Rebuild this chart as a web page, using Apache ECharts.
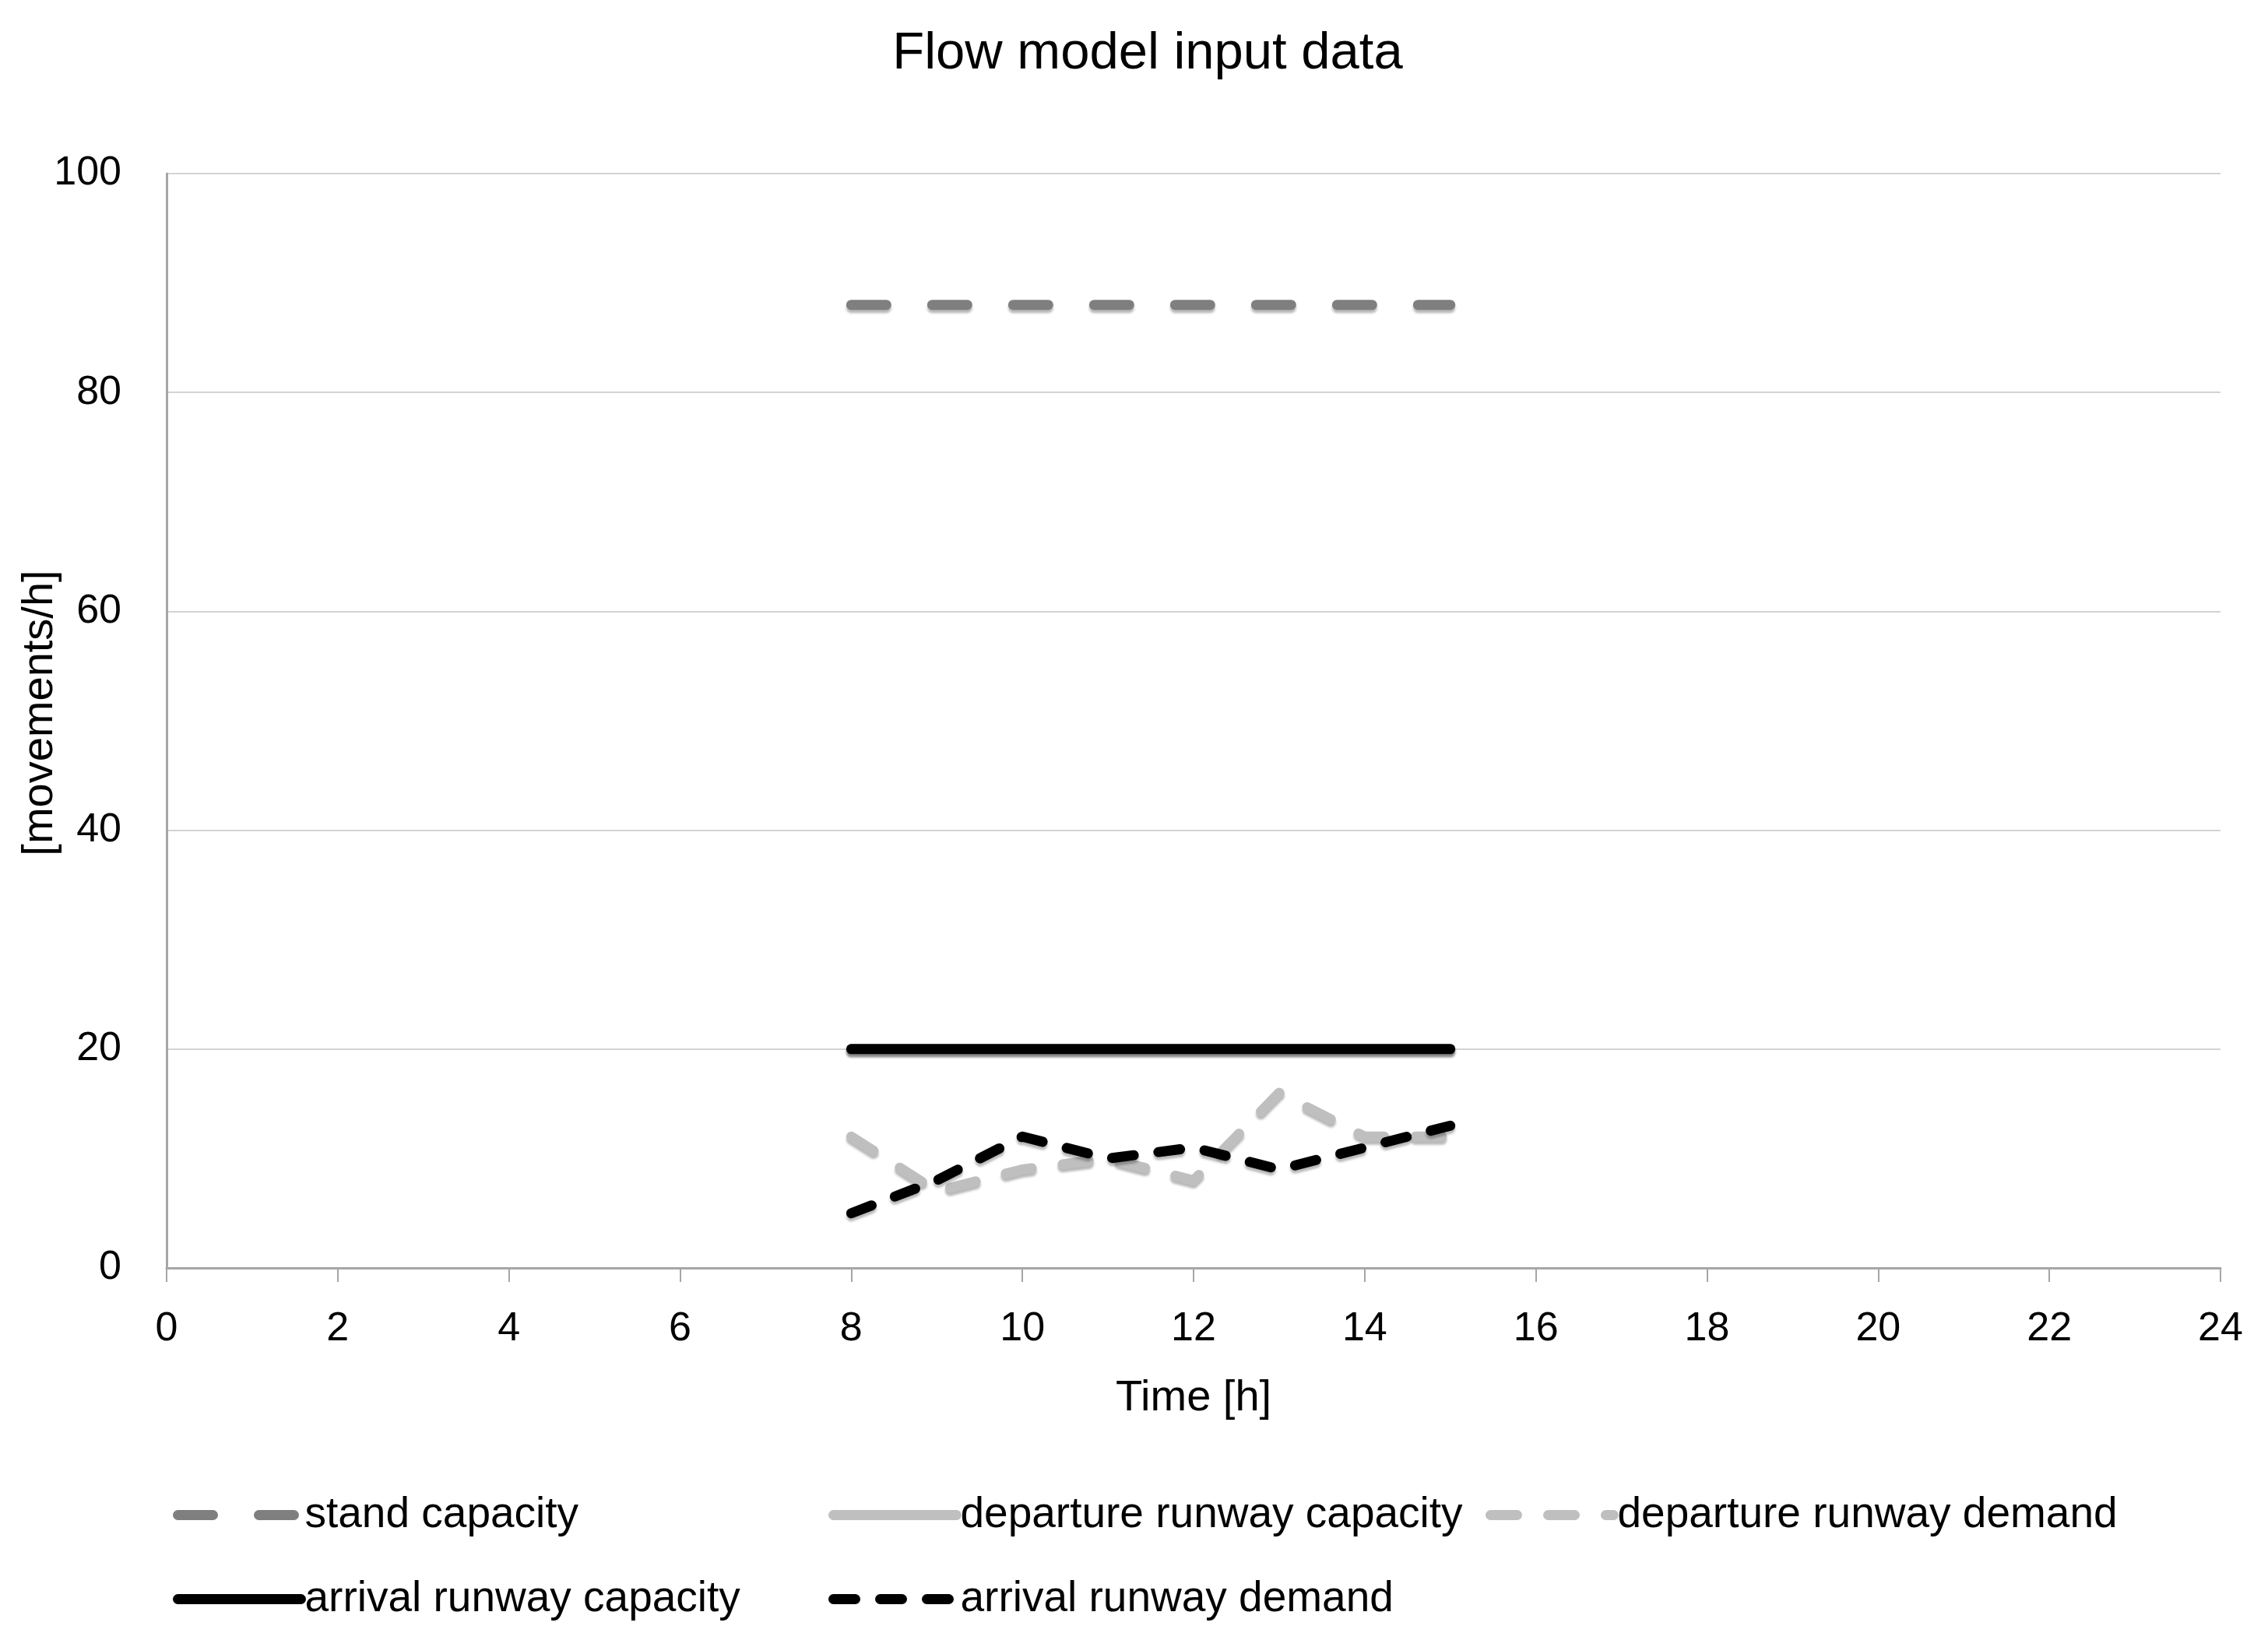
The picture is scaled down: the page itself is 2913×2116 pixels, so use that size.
<!DOCTYPE html>
<html>
<head>
<meta charset="utf-8">
<script src="https://cdn.jsdelivr.net/npm/echarts@6/dist/echarts.min.js"></script>
<style>html,body{margin:0;padding:0;background:#fff}#c{width:2913px;height:2116px}</style>
</head>
<body>
<div id="c"></div>
<script>
var hours = [8, 9, 10, 11, 12, 13, 14, 15];
var standCapacity = [88, 88, 88, 88, 88, 88, 88, 88];
var depCapacity = [20, 20, 20, 20, 20, 20, 20, 20];
var depDemand = [12, 7, 9, 10, 8, 16, 12, 12];
var arrCapacity = [20, 20, 20, 20, 20, 20, 20, 20];
var arrDemand = [5, 8, 12, 10, 11, 9, 11, 13];
var xTicks = [0, 2, 4, 6, 8, 10, 12, 14, 16, 18, 20, 22, 24];
var yTicks = [0, 20, 40, 60, 80, 100];

var FONT = "'Liberation Sans', Arial, sans-serif";
function pairs(v) { return hours.map(function (h, i) { return [h, v[i]]; }); }

var defs = [
  { name: 'stand capacity', data: standCapacity, color: '#7f7f7f', dash: [45, 59] },
  { name: 'departure runway capacity', data: depCapacity, color: '#bfbfbf', dash: 'solid' },
  { name: 'departure runway demand', data: depDemand, color: '#bfbfbf', dash: [34, 40] },
  { name: 'arrival runway capacity', data: arrCapacity, color: '#000000', dash: 'solid' },
  { name: 'arrival runway demand', data: arrDemand, color: '#000000', dash: [28, 32] }
];
var legendPos = [[222, 1919], [1064, 1919], [1908, 1919], [222, 2027], [1064, 2027]];

var series = defs.map(function (d, i) {
  return {
    name: d.name, type: 'line', data: pairs(d.data), symbol: 'none', z: 2 + i,
    lineStyle: { color: d.color, width: 13, type: d.dash, cap: 'round', join: 'round',
      shadowColor: 'rgba(0,0,0,0.28)', shadowBlur: 3, shadowOffsetY: 4 },
    itemStyle: { color: d.color },
    emphasis: { disabled: true }, animation: false
  };
});

var legends = defs.map(function (d, i) {
  return {
    data: [d.name], left: legendPos[i][0], top: legendPos[i][1], orient: 'horizontal',
    padding: 0, itemWidth: 158, itemHeight: 14, selectedMode: false,
    lineStyle: { width: 13, type: d.dash, cap: 'round', color: d.color },
    itemStyle: { color: 'rgba(0,0,0,0)', borderWidth: 0 },
    textStyle: { fontFamily: FONT, fontSize: 55, color: '#000' }
  };
});

var chart = echarts.init(document.getElementById('c'), null, { renderer: 'canvas' });
chart.setOption({
  backgroundColor: '#fff',
  animation: false,
  title: { text: 'Flow model input data', left: 1469, top: 31, textAlign: 'center',
    textStyle: { fontFamily: FONT, fontSize: 67, fontWeight: 'normal', color: '#000' } },
  legend: legends,
  grid: { left: 214, right: 61, top: 223, bottom: 487, containLabel: false },
  xAxis: {
    type: 'value', min: xTicks[0], max: xTicks[xTicks.length - 1], interval: 2,
    name: 'Time [h]', nameLocation: 'middle', nameGap: 140, nameMoveOverlap: false,
    nameTextStyle: { fontFamily: FONT, fontSize: 56, color: '#000' },
    axisLine: { lineStyle: { color: '#a6a6a6', width: 3 } },
    axisTick: { show: true, length: 18, lineStyle: { color: '#a6a6a6', width: 2 } },
    axisLabel: { fontFamily: FONT, fontSize: 52, color: '#000', margin: 53 },
    splitLine: { show: false }
  },
  yAxis: {
    type: 'value', min: yTicks[0], max: yTicks[yTicks.length - 1], interval: 20,
    name: '[movements/h]', nameLocation: 'middle', nameGap: 134, nameRotate: 90, nameMoveOverlap: false,
    nameTextStyle: { fontFamily: FONT, fontSize: 56, color: '#000', padding: [0, 0, 0, 20] },
    axisLine: { show: true, lineStyle: { color: '#a6a6a6', width: 3 } },
    axisTick: { show: false },
    axisLabel: { fontFamily: FONT, fontSize: 52, color: '#000', margin: 58 },
    splitLine: { show: true, lineStyle: { color: '#d4d4d4', width: 2 } }
  },
  series: series
});
</script>
</body>
</html>
